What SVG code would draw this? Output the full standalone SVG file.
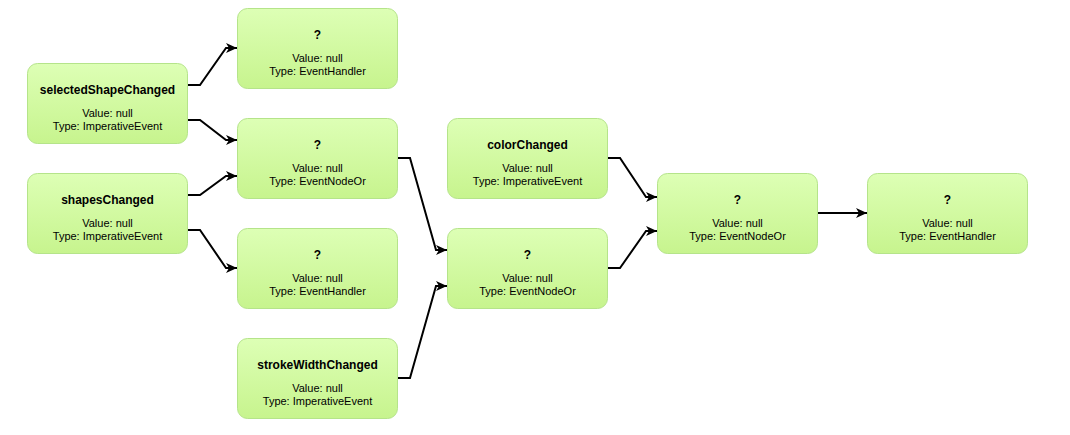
<svg xmlns="http://www.w3.org/2000/svg" width="1070" height="435" viewBox="0 0 1070 435">
<style>
.box{fill:url(#g);stroke:#b5e48a;stroke-width:1}
.t{font-family:"Liberation Sans",Arial,sans-serif;font-size:12px;font-weight:bold;fill:#000;text-anchor:middle}
.s{font-family:"Liberation Sans",Arial,sans-serif;font-size:11px;fill:#000;text-anchor:middle}
.c{fill:none;stroke:#000;stroke-width:2;marker-end:url(#a)}
</style>
<defs>
<linearGradient id="g" x1="0" y1="0" x2="0" y2="1">
<stop offset="0" stop-color="#ddffb5"/>
<stop offset="1" stop-color="#c7f48e"/>
</linearGradient>
<marker id="a" markerUnits="userSpaceOnUse" markerWidth="14" markerHeight="12" refX="11" refY="5" orient="auto" viewBox="0 0 14 12">
<path d="M0,0 L11,5 L0,10 L3,5 z" fill="#000"/>
</marker>
</defs>
<rect width="1070" height="435" fill="#fff"/>
<g id="connectors">
<path class="c" d="M188,85 H200 L226,48 H237"/>
<path class="c" d="M188,120 H200 L226,140 H237"/>
<path class="c" d="M188,195 H200 L226,176 H237"/>
<path class="c" d="M188,230 H200 L226,268 H237"/>
<path class="c" d="M398,158 H410 L436,250 H447"/>
<path class="c" d="M398,378 H410 L436,286 H447"/>
<path class="c" d="M608,158 H620 L646,197 H657"/>
<path class="c" d="M608,268 H620 L646,231 H657"/>
<path class="c" d="M818,213 H867"/>
</g>
<g id="selectedShapeChanged">
<rect class="box" x="27.5" y="63.5" width="160" height="80" rx="10"/>
<text class="t" x="107.5" y="94">selectedShapeChanged</text>
<text class="s" x="107.5" y="117">Value: null</text>
<text class="s" x="107.5" y="130">Type: ImperativeEvent</text>
</g>
<g id="shapesChanged">
<rect class="box" x="27.5" y="173.5" width="160" height="80" rx="10"/>
<text class="t" x="107.5" y="204">shapesChanged</text>
<text class="s" x="107.5" y="227">Value: null</text>
<text class="s" x="107.5" y="240">Type: ImperativeEvent</text>
</g>
<g id="handler1">
<rect class="box" x="237.5" y="8.5" width="160" height="80" rx="10"/>
<text class="t" x="317.5" y="39">?</text>
<text class="s" x="317.5" y="62">Value: null</text>
<text class="s" x="317.5" y="75">Type: EventHandler</text>
</g>
<g id="or1">
<rect class="box" x="237.5" y="118.5" width="160" height="80" rx="10"/>
<text class="t" x="317.5" y="149">?</text>
<text class="s" x="317.5" y="172">Value: null</text>
<text class="s" x="317.5" y="185">Type: EventNodeOr</text>
</g>
<g id="handler2">
<rect class="box" x="237.5" y="228.5" width="160" height="80" rx="10"/>
<text class="t" x="317.5" y="259">?</text>
<text class="s" x="317.5" y="282">Value: null</text>
<text class="s" x="317.5" y="295">Type: EventHandler</text>
</g>
<g id="strokeWidthChanged">
<rect class="box" x="237.5" y="338.5" width="160" height="80" rx="10"/>
<text class="t" x="317.5" y="369">strokeWidthChanged</text>
<text class="s" x="317.5" y="392">Value: null</text>
<text class="s" x="317.5" y="405">Type: ImperativeEvent</text>
</g>
<g id="colorChanged">
<rect class="box" x="447.5" y="118.5" width="160" height="80" rx="10"/>
<text class="t" x="527.5" y="149">colorChanged</text>
<text class="s" x="527.5" y="172">Value: null</text>
<text class="s" x="527.5" y="185">Type: ImperativeEvent</text>
</g>
<g id="or2">
<rect class="box" x="447.5" y="228.5" width="160" height="80" rx="10"/>
<text class="t" x="527.5" y="259">?</text>
<text class="s" x="527.5" y="282">Value: null</text>
<text class="s" x="527.5" y="295">Type: EventNodeOr</text>
</g>
<g id="or3">
<rect class="box" x="657.5" y="173.5" width="160" height="80" rx="10"/>
<text class="t" x="737.5" y="204">?</text>
<text class="s" x="737.5" y="227">Value: null</text>
<text class="s" x="737.5" y="240">Type: EventNodeOr</text>
</g>
<g id="handler3">
<rect class="box" x="867.5" y="173.5" width="160" height="80" rx="10"/>
<text class="t" x="947.5" y="204">?</text>
<text class="s" x="947.5" y="227">Value: null</text>
<text class="s" x="947.5" y="240">Type: EventHandler</text>
</g>
</svg>
